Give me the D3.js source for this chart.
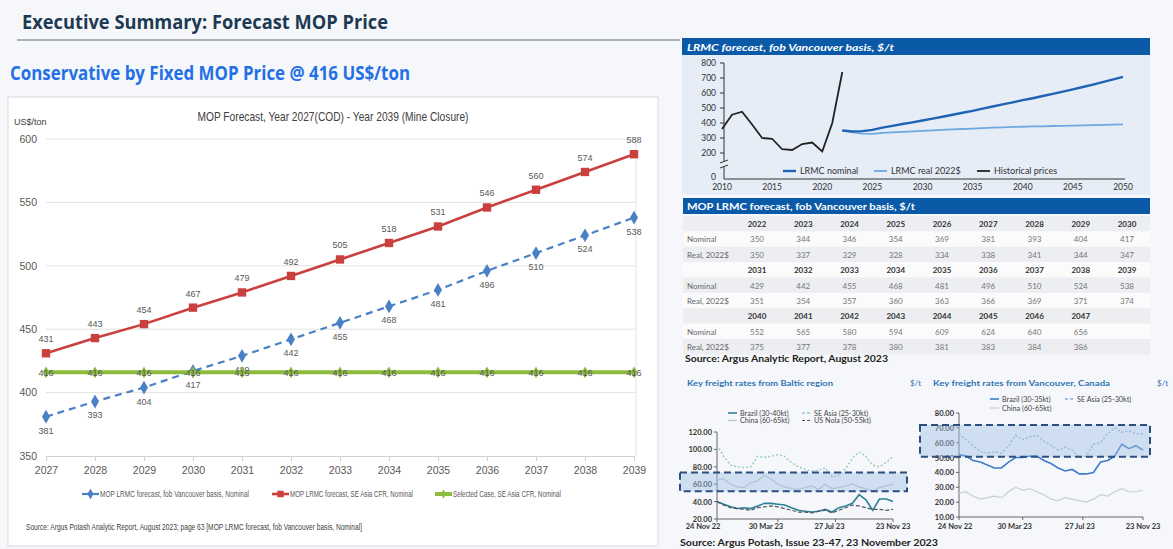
<!DOCTYPE html>
<html>
<head>
<meta charset="utf-8">
<script src="https://cdnjs.cloudflare.com/ajax/libs/d3/7.8.5/d3.min.js"></script>
<style>
body{margin:0;background:#f6f7fa;}
svg{display:block;}
</style>
</head>
<body>
<div class="canva"></div>
<script>
//Main chart data
const years = [2027,2028,2029,2030,2031,2032,2033,2034,2035,2036,2037,2038,2039]
const seAsiaCfr = [431,443,454,467,479,492,505,518,531,546,560,574,588]
const fobVancouver = [381,393,404,417,429,442,455,468,481,496,510,524,538]
const selectedCase = [416,416,416,416,416,416,416,416,416,416,416,416,416]
const mainTicks = [350,400,450,500,550,600]

//LRMC chart data
const histYears = [2010,2011,2012,2013,2014,2015,2016,2017,2018,2019,2020,2021,2022]
const histPrices = [360,455,475,390,300,295,225,220,260,270,210,400,740]
const lrmcYears = [2022,2023,2024,2025,2026,2027,2028,2029,2030,2031,2032,2033,2034,2035,2036,2037,2038,2039,2040,2041,2042,2043,2044,2045,2046,2047,2050]
const lrmcNominal = [350,344,346,354,369,381,393,404,417,429,442,455,468,481,496,510,524,538,552,565,580,594,609,624,640,656,708]
const lrmcReal = [350,337,329,328,334,338,341,344,347,351,354,357,360,363,366,369,371,374,375,377,378,380,381,383,384,386,391]
const lrmcTicks = [200,300,400,500,600,700,800]
const lrmcYearTicks = [2010,2015,2020,2025,2030,2035,2040,2045,2050]

//Table data
const tableYears = [2022,2023,2024,2025,2026,2027,2028,2029,2030,2031,2032,2033,2034,2035,2036,2037,2038,2039,2040,2041,2042,2043,2044,2045,2046,2047]
const tableNominal = [350,344,346,354,369,381,393,404,417,429,442,455,468,481,496,510,524,538,552,565,580,594,609,624,640,656]
const tableReal = [350,337,329,328,334,338,341,344,347,351,354,357,360,363,366,369,371,374,375,377,378,380,381,383,384,386]

//Freight data (fortnightly, 24 Nov 22 - 23 Nov 23)
const freightTickLabels = ['24 Nov 22','30 Mar 23','27 Jul 23','23 Nov 23']
const balticSeAsia = [105,92,82,80,79,80,92,91,92,94,92,85,80,77,75,76,79,68,70,78,90,97,92,82,80,85,92]
const balticChina = [65,66,60,57,56,62,64,70,66,60,57,55,54,56,58,54,60,55,56,58,60,57,55,52,56,58,60]
const balticBrazil = [40,37,34,32,33,32,35,38,38,37,36,33,30,29,28,29,31,28,33,35,38,48,42,30,43,43,40]
const balticNola = [40,36,33,32,31,30,33,34,35,34,32,30,28,28,27,29,30,27,30,33,36,35,33,31,31,30,31]
const balticTicks = [20,40,60,80,100,120]
const vanBrazil = [52,51,48,47,45,43,43,47,50,50,51,51,48,46,43,41,42,39,39,40,47,48,51,59,56,58,55]
const vanSeAsia = [66,62,58,54,53,54,53,58,65,62,64,65,61,58,55,57,55,50,51,59,60,66,70,67,68,66,66]
const vanChina = [26,27,24,22,23,24,23,27,30,28,29,27,25,22,21,23,22,21,20,22,25,24,27,29,27,27,28]
const vanTicks = [10,20,30,40,50,60,70,80]

const narrow = "'Liberation Sans Narrow','Arial Narrow',sans-serif"
const argus = "Lato, 'Open Sans', sans-serif"

//Add Svg Element
const canvas = d3.select('.canva')
const svg = canvas.append('svg')
    .attr('width', 1173)
    .attr('height', 549)

svg.append('rect').attr('width', 1173).attr('height', 549).attr('fill', '#f6f7fa')

//Headings
svg.append('text')
    .text('Executive Summary: Forecast MOP Price')
    .attr('x', 22).attr('y', 29)
    .attr('fill', '#1d3a52')
    .attr('font-family', 'Open Sans').attr('font-weight', 700).attr('font-size', 19)
    .attr('textLength', 366).attr('lengthAdjust', 'spacingAndGlyphs')
svg.append('line')
    .attr('x1', 17).attr('x2', 680).attr('y1', 40).attr('y2', 40)
    .attr('stroke', '#abaeb2').attr('stroke-width', 2)
svg.append('text')
    .text('Conservative by Fixed MOP Price @ 416 US$/ton')
    .attr('x', 10).attr('y', 80)
    .attr('fill', '#2370e6')
    .attr('font-family', 'Open Sans').attr('font-weight', 700).attr('font-size', 20)
    .attr('textLength', 400).attr('lengthAdjust', 'spacingAndGlyphs')

//Main chart box
svg.append('rect')
    .attr('x', 8).attr('y', 97).attr('width', 650).attr('height', 449)
    .attr('fill', '#ffffff').attr('stroke', '#d9d9d9')

svg.append('text')
    .text('MOP Forecast, Year 2027(COD) - Year 2039 (Mine Closure)')
    .attr('x', 333).attr('y', 121).attr('text-anchor', 'middle')
    .attr('fill', '#404040').attr('font-family', narrow).attr('font-size', 13)
    .attr('textLength', 271).attr('lengthAdjust', 'spacingAndGlyphs')
svg.append('text')
    .text('US$/ton')
    .attr('x', 14).attr('y', 125)
    .attr('fill', '#404040').attr('font-family', narrow).attr('font-size', 9)

const x = d3.scalePoint().domain(years).range([46, 634])
const y = d3.scaleLinear().domain([350, 600]).range([456, 139])

//Grid
svg.append('g').selectAll('line')
    .data(mainTicks.slice(1))
    .enter().append('line')
    .attr('x1', 46).attr('x2', 636)
    .attr('y1', d => y(d)).attr('y2', d => y(d))
    .attr('stroke', '#e3e3e3')
svg.append('line')
    .attr('x1', 636).attr('x2', 636).attr('y1', y(600)).attr('y2', y(350))
    .attr('stroke', '#e3e3e3')

const yAxis = svg.append('g')
    .attr('transform', 'translate(46,0)')
    .call(d3.axisLeft(y).tickValues(mainTicks).tickSize(0).tickPadding(9))
yAxis.select('.domain').remove()
yAxis.selectAll('text').attr('fill', '#595959').attr('font-family', narrow).attr('font-size', 10.5)

const xAxis = svg.append('g')
    .attr('transform', 'translate(0,' + y(350) + ')')
    .call(d3.axisBottom(x).tickSizeInner(5).tickSizeOuter(0).tickPadding(6))
xAxis.select('.domain').attr('stroke', '#d0d0d0')
xAxis.selectAll('line').attr('stroke', '#d0d0d0')
xAxis.selectAll('text').attr('fill', '#595959').attr('font-family', narrow).attr('font-size', 10.5)

const mainSeries = [
    {name: 'MOP LRMC forecast, fob Vancouver basis, Nominal', values: fobVancouver, color: '#4a80c4', width: 2.2, dash: '7,5', symbol: d3.symbolDiamond, size: 55, dy: 17, lx: 82, tw: 149},
    {name: 'MOP LRMC forecast, SE Asia CFR, Nominal', values: seAsiaCfr, color: '#c9403e', width: 2.6, dash: null, symbol: d3.symbolSquare, size: 70, dy: -11, lx: 272, tw: 123},
    {name: 'Selected Case, SE Asia CFR, Nominal', values: selectedCase, color: '#8dbb3c', width: 4, dash: null, symbol: d3.symbolDiamond, size: 40, dy: 3.5, lx: 435, tw: 108}
]

const line = d3.line().x((d, i) => x(years[i])).y(d => y(d))

mainSeries.forEach(s => {
    svg.append('path')
        .attr('d', line(s.values))
        .attr('fill', 'none')
        .attr('stroke', s.color)
        .attr('stroke-width', s.width)
        .attr('stroke-dasharray', s.dash)
    svg.append('g').selectAll('path')
        .data(s.values)
        .enter().append('path')
        .attr('d', d3.symbol().type(s.symbol).size(s.size))
        .attr('transform', (d, i) => 'translate(' + x(years[i]) + ',' + y(d) + ')')
        .attr('fill', s.color)
    svg.append('g').selectAll('text')
        .data(s.values)
        .enter().append('text')
        .text(d => d)
        .attr('x', (d, i) => x(years[i]))
        .attr('y', d => y(d) + s.dy)
        .attr('text-anchor', 'middle')
        .attr('fill', '#595959')
        .attr('font-family', narrow).attr('font-size', 9)
    //Legend
    svg.append('line')
        .attr('x1', s.lx).attr('x2', s.lx + 17).attr('y1', 494).attr('y2', 494)
        .attr('stroke', s.color).attr('stroke-width', s.width)
    svg.append('path')
        .attr('d', d3.symbol().type(s.symbol).size(s.size * 0.6))
        .attr('transform', 'translate(' + (s.lx + 8.5) + ',494)')
        .attr('fill', s.color)
    svg.append('text')
        .text(s.name)
        .attr('x', s.lx + 18).attr('y', 497)
        .attr('fill', '#595959').attr('font-family', narrow).attr('font-size', 8.5)
        .attr('textLength', s.tw).attr('lengthAdjust', 'spacingAndGlyphs')
})

svg.append('text')
    .text('Source: Argus Potash Analytic Report, August 2023; page 63 [MOP LRMC forecast, fob Vancouver basis, Nominal]')
    .attr('x', 26).attr('y', 530)
    .attr('fill', '#404040').attr('font-family', narrow).attr('font-size', 8.5)
    .attr('textLength', 336).attr('lengthAdjust', 'spacingAndGlyphs')

//LRMC chart
svg.append('rect').attr('x', 682).attr('y', 38).attr('width', 468).attr('height', 17).attr('fill', '#0b5aa7')
svg.append('rect').attr('x', 682).attr('y', 55).attr('width', 468).attr('height', 140).attr('fill', '#e6edf7')
svg.append('text')
    .text('LRMC forecast, fob Vancouver basis, $/t')
    .attr('x', 687).attr('y', 50.5)
    .attr('fill', '#ffffff').attr('font-family', argus).attr('font-weight', 700).attr('font-style', 'italic').attr('font-size', 10)
    .attr('textLength', 207).attr('lengthAdjust', 'spacingAndGlyphs')

const lx = d3.scaleLinear().domain([2010, 2050]).range([722, 1123])
const ly = d3.scaleLinear().domain([200, 800]).range([153, 63])
const zeroY = ly(200) + 26

svg.append('line').attr('x1', 724).attr('x2', 724).attr('y1', ly(800)).attr('y2', ly(200) + 9).attr('stroke', '#333')
svg.append('line').attr('x1', 724).attr('x2', 724).attr('y1', ly(200) + 14).attr('y2', zeroY).attr('stroke', '#333')
svg.append('path').attr('d', 'M720,' + (ly(200) + 10) + 'l8,-3M720,' + (ly(200) + 15) + 'l8,-3').attr('stroke', '#333').attr('fill', 'none')
svg.append('line').attr('x1', 724).attr('x2', 1125).attr('y1', zeroY).attr('y2', zeroY).attr('stroke', '#333')

svg.append('g').selectAll('text')
    .data(lrmcTicks.concat([0]))
    .enter().append('text')
    .text(d => d)
    .attr('x', 716).attr('y', d => (d === 0 ? zeroY + 1 : ly(d) + 3))
    .attr('text-anchor', 'end').attr('fill', '#333')
    .attr('font-family', argus).attr('font-size', 8.5)
svg.append('g').selectAll('line')
    .data(lrmcTicks)
    .enter().append('line')
    .attr('x1', 720).attr('x2', 724).attr('y1', d => ly(d)).attr('y2', d => ly(d))
    .attr('stroke', '#333')
svg.append('g').selectAll('text')
    .data(lrmcYearTicks)
    .enter().append('text')
    .text(d => d)
    .attr('x', d => lx(d)).attr('y', zeroY + 11)
    .attr('text-anchor', 'middle').attr('fill', '#333')
    .attr('font-family', argus).attr('font-size', 8.5)

const lrmcLine = d3.line().x(d => lx(d[0])).y(d => ly(d[1]))
svg.append('path')
    .attr('d', lrmcLine(lrmcYears.map((yr, i) => [yr, lrmcReal[i]])))
    .attr('fill', 'none').attr('stroke', '#6ea9e2').attr('stroke-width', 1.8)
svg.append('path')
    .attr('d', lrmcLine(lrmcYears.map((yr, i) => [yr, lrmcNominal[i]])))
    .attr('fill', 'none').attr('stroke', '#1f63b5').attr('stroke-width', 2.4)
svg.append('path')
    .attr('d', lrmcLine(histYears.map((yr, i) => [yr, histPrices[i]])))
    .attr('fill', 'none').attr('stroke', '#222').attr('stroke-width', 1.8)

const lrmcLegend = [
    {name: 'LRMC nominal', color: '#1f63b5', x: 783, w: 2.4},
    {name: 'LRMC real 2022$', color: '#6ea9e2', x: 874, w: 1.8},
    {name: 'Historical prices', color: '#222', x: 977, w: 1.8}
]
lrmcLegend.forEach(l => {
    svg.append('line').attr('x1', l.x).attr('x2', l.x + 13).attr('y1', 171).attr('y2', 171)
        .attr('stroke', l.color).attr('stroke-width', l.w)
    svg.append('text').text(l.name).attr('x', l.x + 17).attr('y', 174)
        .attr('fill', '#333').attr('font-family', argus).attr('font-size', 9)
})

//Table
svg.append('rect').attr('x', 683).attr('y', 198).attr('width', 467).attr('height', 16).attr('fill', '#0b5aa7')
svg.append('text')
    .text('MOP LRMC forecast, fob Vancouver basis, $/t')
    .attr('x', 687).attr('y', 210)
    .attr('fill', '#ffffff').attr('font-family', argus).attr('font-weight', 700).attr('font-size', 10)
    .attr('textLength', 228).attr('lengthAdjust', 'spacingAndGlyphs')

const colX = d3.scalePoint().domain(d3.range(9)).range([757, 1127])
const rowY = d3.scaleLinear().domain([0, 8]).range([224, 347])
const tableRows = []
for (let b = 0; b < 3; b++) {
    const sl = [b * 9, b * 9 + 9]
    tableRows.push({label: '', cells: tableYears.slice(sl[0], sl[1]), bold: true})
    tableRows.push({label: 'Nominal', cells: tableNominal.slice(sl[0], sl[1]), bold: false})
    tableRows.push({label: 'Real, 2022$', cells: tableReal.slice(sl[0], sl[1]), bold: false})
}
const rows = svg.append('g').selectAll('g')
    .data(tableRows)
    .enter().append('g')
    .attr('transform', (d, i) => 'translate(0,' + rowY(i) + ')')
rows.append('rect')
    .attr('x', 683).attr('y', -8).attr('width', 467).attr('height', 15.5)
    .attr('fill', (d, i) => i % 2 === 0 ? '#eceef2' : '#fbfbfc')
rows.append('text')
    .text(d => d.label)
    .attr('x', 687).attr('y', 3)
    .attr('fill', '#666').attr('font-family', argus).attr('font-size', 8)
rows.selectAll('.cell')
    .data(d => d.cells.map(c => ({v: c, bold: d.bold})))
    .enter().append('text')
    .attr('class', 'cell')
    .text(d => d.v)
    .attr('x', (d, i) => colX(i)).attr('y', 3)
    .attr('text-anchor', 'middle')
    .attr('fill', d => d.bold ? '#333' : '#777')
    .attr('font-weight', d => d.bold ? 700 : 400)
    .attr('font-family', argus).attr('font-size', 8)

svg.append('text')
    .text('Source: Argus Analytic Report, August 2023')
    .attr('x', 685).attr('y', 362)
    .attr('fill', '#222').attr('font-family', argus).attr('font-weight', 700).attr('font-size', 10)
    .attr('textLength', 203).attr('lengthAdjust', 'spacingAndGlyphs')

//Freight charts
const parse = d3.timeParse('%d %b %y')
const freightStart = parse('24 Nov 22')
const freightDates = d3.range(balticBrazil.length).map(i => d3.timeDay.offset(freightStart, i * 14))

function drawFreight(c) {
    const fx = d3.scaleTime().domain([freightDates[0], freightDates[freightDates.length - 1]]).range(c.xr)
    const fy = d3.scaleLinear().domain([c.ticks[0], c.ticks[c.ticks.length - 1]]).range(c.yr)
    const g = svg.append('g')

    g.append('text').text(c.title).attr('x', c.tx).attr('y', 386)
        .attr('fill', '#2f75b5').attr('font-family', argus).attr('font-weight', 700).attr('font-size', 8)
        .attr('textLength', c.tw).attr('lengthAdjust', 'spacingAndGlyphs')
    g.append('text').text('$/t').attr('x', c.ux).attr('y', 386)
        .attr('fill', '#2f75b5').attr('font-family', argus).attr('font-size', 8)

    //axes
    g.append('line').attr('x1', c.xr[0]).attr('x2', c.xr[0]).attr('y1', c.yr[1]).attr('y2', c.yr[0]).attr('stroke', '#666')
    g.append('line').attr('x1', c.xr[0]).attr('x2', c.xr[1]).attr('y1', c.yr[0]).attr('y2', c.yr[0]).attr('stroke', '#666')
    g.selectAll('.yt').data(c.ticks).enter().append('text')
        .text(d => d.toFixed(2))
        .attr('x', c.xr[0] - 5).attr('y', d => fy(d) + 3)
        .attr('text-anchor', 'end').attr('fill', '#333').attr('font-weight', 700)
        .attr('font-family', argus).attr('font-size', 7.5)
    g.selectAll('.ytl').data(c.ticks).enter().append('line')
        .attr('x1', c.xr[0] - 3).attr('x2', c.xr[0]).attr('y1', d => fy(d)).attr('y2', d => fy(d))
        .attr('stroke', '#666')
    g.selectAll('.xt').data(freightTickLabels).enter().append('text')
        .text(d => d)
        .attr('x', (d, i) => fx(parse(d)) + c.dx[i]).attr('y', 529)
        .attr('text-anchor', 'middle').attr('fill', '#333').attr('font-weight', 700)
        .attr('font-family', argus).attr('font-size', 7.5)
    g.selectAll('.xtl').data(freightTickLabels).enter().append('line')
        .attr('x1', d => fx(parse(d))).attr('x2', d => fx(parse(d)))
        .attr('y1', c.yr[0]).attr('y2', c.yr[0] + 3).attr('stroke', '#666')

    const fl = d3.line().x((d, i) => fx(freightDates[i])).y(d => fy(d))
    c.series.forEach(s => {
        g.append('path').attr('d', fl(s.values))
            .attr('fill', 'none').attr('stroke', s.color).attr('stroke-width', s.w)
            .attr('stroke-dasharray', s.dash)
    })

    //highlight box
    g.append('rect')
        .attr('x', c.box[0]).attr('y', fy(c.box[2])).attr('width', c.box[1] - c.box[0]).attr('height', fy(c.box[3]) - fy(c.box[2]))
        .attr('fill', '#9fc0e6').attr('fill-opacity', 0.45)
        .attr('stroke', '#2c4f7f').attr('stroke-width', 2).attr('stroke-dasharray', '7,4')

    //legend
    c.series.forEach((s, i) => {
        const lxp = c.legX[i % 2], lyp = c.legY[Math.floor(i / 2)]
        g.append('line').attr('x1', lxp).attr('x2', lxp + 9).attr('y1', lyp).attr('y2', lyp)
            .attr('stroke', s.color).attr('stroke-width', s.w).attr('stroke-dasharray', s.dash ? '3,2' : null)
        g.append('text').text(s.name).attr('x', lxp + 12).attr('y', lyp + 2.5)
            .attr('fill', '#444').attr('font-family', argus).attr('font-size', 7.2)
    })
}

drawFreight({
    title: 'Key freight rates from Baltic region', tx: 687, tw: 146, ux: 910,
    xr: [717, 893], yr: [519, 432], ticks: balticTicks, dx: [-14, -12, -6, 0],
    box: [680, 907, 73.5, 52], legX: [728, 802], legY: [413, 420.5],
    series: [
        {name: 'Brazil (30-40kt)', values: balticBrazil, color: '#2f8196', w: 1.6, dash: null},
        {name: 'SE Asia (25-30kt)', values: balticSeAsia, color: '#95c9bf', w: 1.4, dash: '2,2'},
        {name: 'China (60-65kt)', values: balticChina, color: '#bcc4ca', w: 1.2, dash: null},
        {name: 'US Nola  (50-55kt)', values: balticNola, color: '#4d5966', w: 1.2, dash: '4,2'}
    ]
})

drawFreight({
    title: 'Key freight rates from Vancouver, Canada', tx: 933, tw: 177, ux: 1157,
    xr: [959, 1143], yr: [517, 413], ticks: vanTicks, dx: [-4, -8, -3, 0],
    box: [920, 1150, 72, 50.5], legX: [990, 1065], legY: [399, 408],
    series: [
        {name: 'Brazil (30-35kt)', values: vanBrazil, color: '#3d7cc9', w: 1.6, dash: null},
        {name: 'SE Asia (25-30kt)', values: vanSeAsia, color: '#8fb2d8', w: 1.4, dash: '2,2'},
        {name: 'China (60-65kt)', values: vanChina, color: '#c9ced3', w: 1.2, dash: null}
    ]
})

svg.append('text')
    .text('Source: Argus Potash, Issue 23-47, 23 November 2023')
    .attr('x', 680).attr('y', 546)
    .attr('fill', '#222').attr('font-family', argus).attr('font-weight', 700).attr('font-size', 10)
    .attr('textLength', 258).attr('lengthAdjust', 'spacingAndGlyphs')
</script>
</body>
</html>
